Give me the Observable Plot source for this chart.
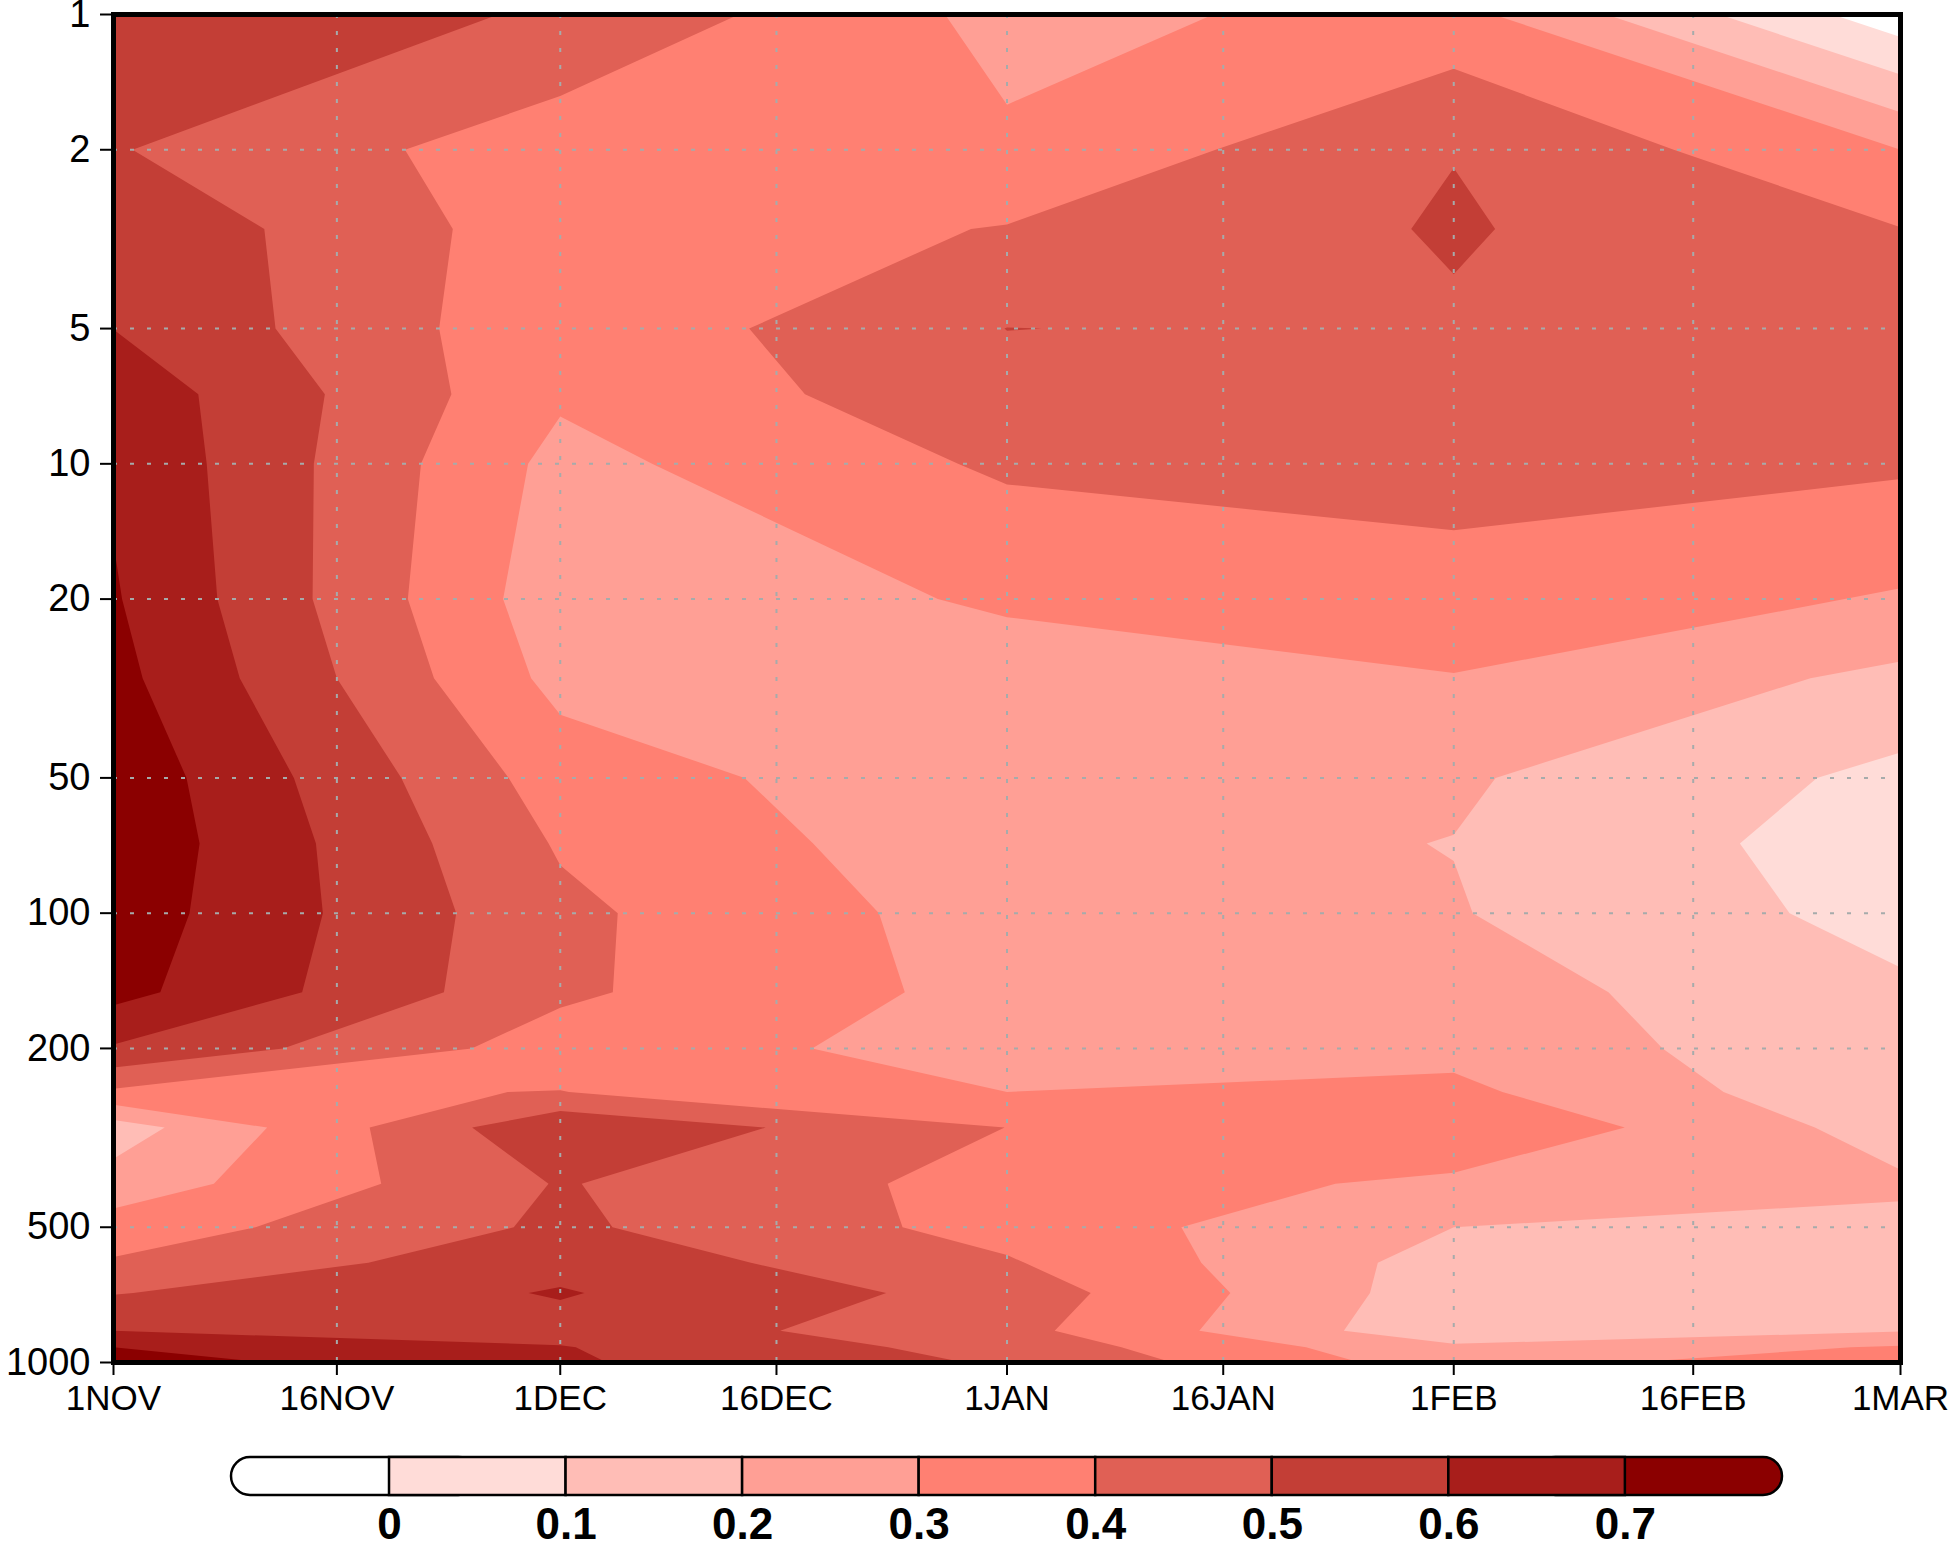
<!DOCTYPE html>
<html>
<head>
<meta charset="utf-8">
<script src="https://cdn.jsdelivr.net/npm/d3@7"></script>
<script src="https://cdn.jsdelivr.net/npm/@observablehq/plot@0.6"></script>
<style>
html,body{margin:0;padding:0;background:#fff;overflow:hidden}
svg{display:block}
svg path{fill-rule:evenodd}
</style>
</head>
<body>
<div id="main"></div>
<div id="bar"></div>
<script>
const levels = [1,2,3,5,7,10,20,30,50,70,100,150,200,250,300,400,500,600,700,850,925,1000];
const nov = [.584,.507,.58,.599,.667,.687,.709,.73,.768,.774,.757,.733,.59,.385,.15,.24,.345,.411,.495,.6,.70,.745];
const dec = [.4865,.343,.343,.326,.314,.27,.24,.27,.352,.39,.422,.418,.353,.402,.586,.507,.518,.567,.608,.565,.605,.613];
const jan = [.27,.315,.405,.501,.471,.416,.311,.263,.226,.231,.251,.265,.259,.30,.399,.361,.364,.41,.46,.433,.462,.488];
const feb = [.335,.497,.51,.488,.485,.429,.37,.295,.213,.198,.206,.2445,.272,.322,.39,.278,.2,.157,.14,.124,.22,.25];
const mar = [-.06,.30,.402,.46,.45,.414,.29,.176,.074,.045,.065,.116,.118,.12,.155,.215,.178,.145,.13,.195,.31,.375];
const months = [nov, dec, jan, feb, mar];

const thresholds = [0,.1,.2,.3,.4,.5,.6,.7];
const colors = ["#ffffff","#ffdcd8","#ffbdb6","#ff9f95","#ff8072","#e06055","#c33e36","#a81e1b","#8b0000"];

const xTickPos = [0,.5,1,1.484,2,2.484,3,3.536,4];
const xTickLabels = ["1NOV","16NOV","1DEC","16DEC","1JAN","16JAN","1FEB","16FEB","1MAR"];
const yTicks = [1,2,5,10,20,50,100,200,500,1000];

const FONT = "'Liberation Sans', Arial, sans-serif";

// Marching squares over the month x level grid, rings mapped back to data units.
const nx = months.length, ny = levels.length;
const grid = [];
for (let j = 0; j < ny; ++j) for (let i = 0; i < nx; ++i) grid.push(months[i][j]);
const contourer = d3.contours().size([nx, ny]).smooth(true);
const toMonth = (c) => Math.max(0, Math.min(nx - 1, c - .5));
const toLevel = (c) => {
  const v = Math.max(0, Math.min(ny - 1, c - .5));
  const j = Math.min(ny - 2, Math.floor(v));
  const t = v - j;
  return Math.exp(Math.log(levels[j]) * (1 - t) + Math.log(levels[j + 1]) * t);
};
const pts = [];
for (const t of thresholds) {
  for (const poly of contourer.contour(grid, t).coordinates) {
    for (const ring of poly) {
      for (const [cx, cy] of ring) pts.push({x: toMonth(cx), y: toLevel(cy), t});
      pts.push({x: NaN, y: NaN, t});
    }
  }
}

const color = {type: "threshold", domain: thresholds, range: colors};
const gridStyle = {stroke: "#a6abab", strokeOpacity: 1, strokeWidth: 2, strokeDasharray: "4 13"};

const main = Plot.plot({
  width: 1950, height: 1410,
  marginLeft: 113, marginRight: 50, marginTop: 14, marginBottom: 48,
  style: {fontFamily: FONT, background: "#fff", color: "#000", overflow: "visible"},
  x: {domain: [0, 4], label: null},
  y: {type: "log", domain: [1, 1000], reverse: true, label: null},
  color,
  marks: [
    Plot.line(pts, {x: "x", y: "y", z: "t", fill: "t", stroke: "none"}),
    Plot.gridX(xTickPos.slice(1, -1), gridStyle),
    Plot.gridY(yTicks.slice(1, -1), gridStyle),
    Plot.frame({stroke: "#000", strokeWidth: 5}),
    Plot.axisX({ticks: xTickPos, tickFormat: (d) => xTickLabels[xTickPos.indexOf(d)], tickSize: 13, tickPadding: 10,
      fontSize: 35, stroke: "#000", strokeWidth: 2, label: null}),
    Plot.axisY({ticks: yTicks, text: (d) => String(d), tickSize: 13, tickPadding: 10,
      fontSize: 38, stroke: "#000", strokeWidth: 2, label: null})
  ]
});
document.getElementById("main").append(main);

const barMin = -.0895, barMax = .789;
const edges = [barMin, ...thresholds, barMax];
const cells = colors.map((c, i) => ({x1: edges[i], x2: edges[i + 1], c: i ? thresholds[i - 1] : -1}));
const outline = {stroke: "#000", strokeWidth: 2.5, y1: 0, y2: 1, fill: "c"};
const bar = Plot.plot({
  width: 1950, height: 140,
  marginLeft: 231, marginRight: 168, marginTop: 47, marginBottom: 55,
  style: {fontFamily: FONT, background: "#fff", color: "#000", overflow: "hidden"},
  x: {domain: [barMin, barMax], label: null},
  y: {domain: [0, 1], axis: null},
  color,
  marks: [
    Plot.rect([{x1: barMin, x2: .05, c: -1}, {x1: .65, x2: barMax, c: .7}], {x1: "x1", x2: "x2", rx: 19, ...outline}),
    Plot.rect(cells.slice(1, -1), {x1: "x1", x2: "x2", ...outline}),
    Plot.axisX({ticks: thresholds, tickFormat: (d) => String(d), tickSize: 0, tickPadding: 12,
      fontSize: 44, fontWeight: "bold", label: null})
  ]
});
document.getElementById("bar").append(bar);
</script>
</body>
</html>
